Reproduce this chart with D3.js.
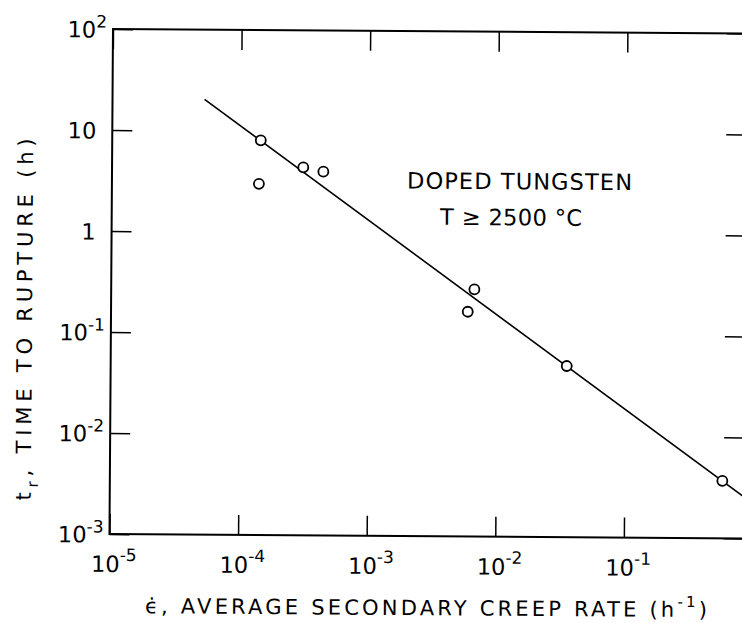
<!DOCTYPE html>
<html>
<head>
<meta charset="utf-8">
<script src="https://cdn.jsdelivr.net/npm/d3@7"></script>
<style>
  body { margin: 0; background: #fff; }
  text { font-family: "DejaVu Sans", sans-serif; fill: #000; }
</style>
</head>
<body>
<script>
// creep rupture data, doped tungsten, T >= 2500 C
var creepRate = [1.43e-4, 1.39e-4, 3.07e-4, 4.4e-4, 6.67e-3, 5.94e-3, 3.52e-2, 0.579];
var ruptureTime = [8.1, 3.0, 4.4, 4.0, 0.28, 0.168, 0.0495, 0.0037];

// fitted line, two ends
var fitRate = [5.2e-5, 1];
var fitTime = [20.4, 0.00223];

var xTicks = [1e-5, 1e-4, 1e-3, 1e-2, 1e-1];
var xTickLabels = ["10^-5", "10^-4", "10^-3", "10^-2", "10^-1"];
var yTicks = [1e-3, 1e-2, 1e-1, 1, 10, 100];
var yTickLabels = ["10^-3", "10^-2", "10^-1", "1", "10", "10^2"];

var width = 742, height = 623;
var left = 113, top_ = 29, bottom = 534, right = 747;

var svg = d3.select("body")
  .append("svg")
    .attr("width", width)
    .attr("height", height);

// the scanned figure is tilted a little
var g = svg.append("g")
  .attr("transform", "rotate(0.4," + left + "," + top_ + ")");

var x = d3.scaleLog().domain([1e-5, 1]).range([left, 756]);
var y = d3.scaleLog().domain([1e-3, 1e2]).range([bottom, top_]);

// split "10^-3" into base + superscript
function supLabel(sel, supDy, supSize) {
  sel.each(function() {
    var t = d3.select(this);
    var parts = t.text().split("^");
    t.text(null);
    t.append("tspan").text(parts[0]);
    if (parts[1]) {
      t.append("tspan")
        .attr("dy", supDy)
        .attr("font-size", supSize)
        .text(parts[1]);
    }
  });
}

// frame
g.append("rect")
  .attr("x", left)
  .attr("y", top_)
  .attr("width", right - left)
  .attr("height", bottom - top_)
  .attr("fill", "none")
  .attr("stroke", "#000")
  .attr("stroke-width", 2);

// bottom axis
var xAxis = g.append("g")
  .attr("transform", "translate(0," + bottom + ")")
  .call(d3.axisBottom(x).tickValues(xTicks).tickSize(-20).tickSizeOuter(0)
    .tickFormat(function(d, i) { return xTickLabels[i]; }));
xAxis.select(".domain").remove();
xAxis.selectAll(".tick line").attr("stroke", "#000").attr("stroke-width", 1.5);
xAxis.selectAll(".tick text")
  .attr("x", 4)
  .attr("y", 38)
  .attr("dy", 0)
  .attr("font-size", 22.5)
  .attr("font-family", "DejaVu Sans")
  .attr("text-anchor", "middle")
  .call(supLabel, -11, 17);

// left axis
var yAxis = g.append("g")
  .attr("transform", "translate(" + left + ",0)")
  .call(d3.axisLeft(y).tickValues(yTicks).tickSize(-20).tickSizeOuter(0)
    .tickFormat(function(d, i) { return yTickLabels[i]; }));
yAxis.select(".domain").remove();
yAxis.selectAll(".tick line").attr("stroke", "#000").attr("stroke-width", 1.5);
yAxis.selectAll(".tick text")
  .attr("x", function(d, i) { return yTickLabels[i].indexOf("^") > 0 ? -6 : -16; })
  .attr("dy", "0.36em")
  .attr("font-size", 22.5)
  .attr("font-family", "DejaVu Sans")
  .attr("text-anchor", "end")
  .call(supLabel, -10, 17);

// top and right ticks, no labels
var topAxis = g.append("g")
  .attr("transform", "translate(0," + top_ + ")")
  .call(d3.axisTop(x).tickValues(xTicks).tickSize(-20).tickSizeOuter(0).tickFormat(""));
topAxis.select(".domain").remove();
topAxis.selectAll(".tick line").attr("stroke", "#000").attr("stroke-width", 1.5);

var rightAxis = g.append("g")
  .attr("transform", "translate(" + right + ",0)")
  .call(d3.axisRight(y).tickValues(yTicks).tickSize(-20).tickSizeOuter(0).tickFormat(""));
rightAxis.select(".domain").remove();
rightAxis.selectAll(".tick line").attr("stroke", "#000").attr("stroke-width", 1.5);

// clip for the fit line
svg.append("defs").append("clipPath")
  .attr("id", "plotclip")
  .append("rect")
    .attr("x", left).attr("y", top_)
    .attr("width", right - left).attr("height", bottom - top_);

var fit = fitRate.map(function(r, i) { return [r, fitTime[i]]; });
g.append("path")
  .datum(fit)
  .attr("clip-path", "url(#plotclip)")
  .attr("fill", "none")
  .attr("stroke", "#000")
  .attr("stroke-width", 1.6)
  .attr("d", d3.line().x(function(d) { return x(d[0]); }).y(function(d) { return y(d[1]); }));

// points
var pts = creepRate.map(function(r, i) { return [r, ruptureTime[i]]; });
g.selectAll("circle.pt")
  .data(pts)
  .enter()
  .append("circle")
    .classed("pt", true)
    .attr("cx", function(d) { return x(d[0]); })
    .attr("cy", function(d) { return y(d[1]); })
    .attr("r", 5)
    .attr("fill", "#fff")
    .attr("stroke", "#000")
    .attr("stroke-width", 1.8);

// annotation
g.append("text")
  .attr("x", 520.6)
  .attr("y", 186.5)
  .attr("text-anchor", "middle")
  .attr("font-size", 22.5)
  .attr("textLength", 225)
  .attr("lengthAdjust", "spacing")
  .text("DOPED TUNGSTEN");

g.append("text")
  .attr("x", 512.4)
  .attr("y", 222.5)
  .attr("text-anchor", "middle")
  .attr("font-size", 22.5)
  .attr("textLength", 142)
  .attr("lengthAdjust", "spacing")
  .text("T \u2265 2500 \u00B0C");

// x title
var xTitle = g.append("text")
  .attr("x", 149)
  .attr("y", 613)
  .attr("font-size", 21)
  .attr("textLength", 562)
  .attr("lengthAdjust", "spacing");
xTitle.append("tspan").text("\u03F5\u0307, AVERAGE SECONDARY CREEP RATE (h");
xTitle.append("tspan").attr("dy", -10).attr("font-size", 15).text("-1");
xTitle.append("tspan").attr("dy", 10).text(")");

// y title
var yTitle = g.append("text")
  .attr("transform", "translate(34,320) rotate(-90)")
  .attr("text-anchor", "middle")
  .attr("font-size", 21)
  .attr("textLength", 362)
  .attr("lengthAdjust", "spacing");
yTitle.append("tspan").text("t");
yTitle.append("tspan").attr("dy", 7).attr("font-size", 15).text("r");
yTitle.append("tspan").attr("dy", -7).text(", TIME TO RUPTURE (h)");
</script>
</body>
</html>
